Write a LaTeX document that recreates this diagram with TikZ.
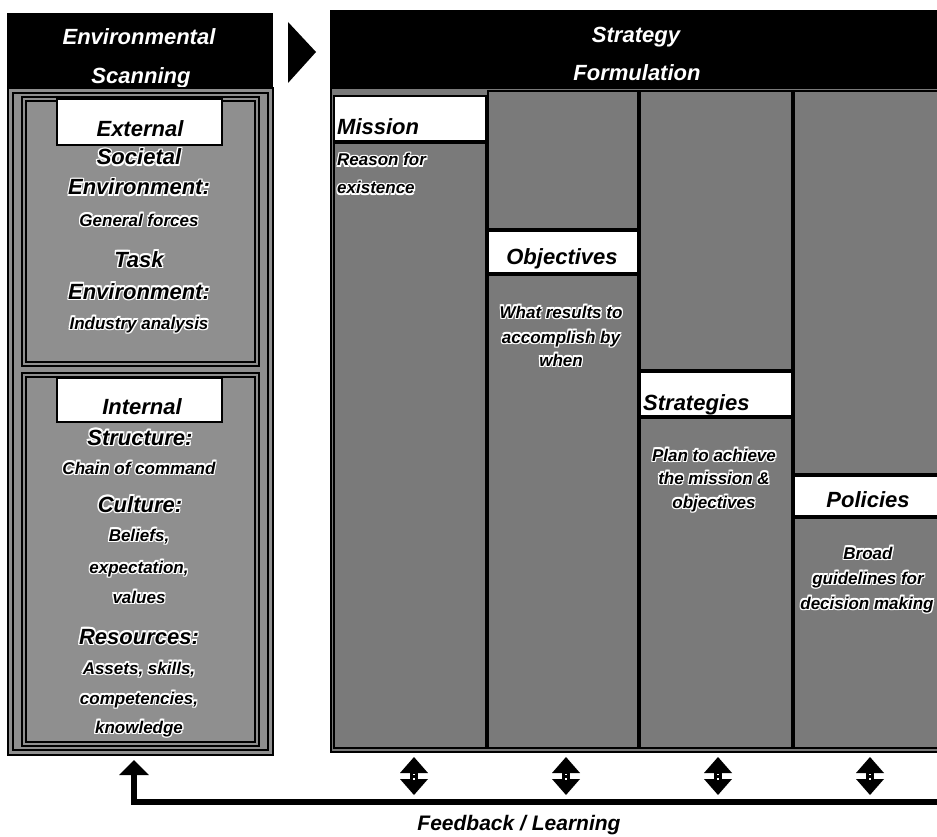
\documentclass[tikz,border=0pt]{standalone}
\usepackage{fontspec}
\setmainfont{Liberation Sans}
\usetikzlibrary{arrows.meta}

\definecolor{ditherL}{gray}{0.56}
\definecolor{ditherR}{gray}{0.48}

% white outline round dark text, built from shifted copies
\newlength\hw
\setlength\hw{1.1pt}
\newcommand\halo[1]{%
  \setbox0=\hbox{#1}%
  \rlap{\color{white}\kern-\hw\copy0}%
  \rlap{\color{white}\kern\hw\copy0}%
  \rlap{\color{white}\raise\hw\copy0}%
  \rlap{\color{white}\lower\hw\copy0}%
  \rlap{\color{white}\kern-\hw\raise\hw\copy0}%
  \rlap{\color{white}\kern\hw\raise\hw\copy0}%
  \rlap{\color{white}\kern-\hw\lower\hw\copy0}%
  \rlap{\color{white}\kern\hw\lower\hw\copy0}%
  \box0}

\tikzset{
  bar/.style={fill=black},
  hdrtext/.style={text=white, anchor=base, inner sep=0pt,
    font=\fontsize{22}{22}\selectfont\bfseries\itshape},
  tab/.style={fill=white, draw=black, line width=1.6pt},
  cell/.style={fill=ditherR, draw=black, line width=1.4pt},
  tabtext/.style={anchor=base, inner sep=0pt,
    font=\fontsize{22}{22}\selectfont\bfseries\itshape},
  bigtext/.style={anchor=base, inner sep=0pt,
    font=\fontsize{22}{22}\selectfont\bfseries\itshape},
  smalltext/.style={anchor=base, inner sep=0pt,
    font=\fontsize{17}{17}\selectfont\bfseries\itshape},
  frameline/.style={draw=black, line width=1.3pt},
  feedback/.style={draw=black, line width=6pt,
    -{Triangle[width=29pt,length=15pt]}},
}

\begin{document}
\begin{tikzpicture}[x=1pt, y=-1pt]
\useasboundingbox (0,0) rectangle (937,837);
\clip (0,0) rectangle (937,837);
\fill[white] (0,0) rectangle (937,837);

% ---------- Environmental Scanning ----------
\fill[bar] (7,13) rectangle (273,88);
\node[hdrtext] (envA) at (139,45) {Environmental};
\node[hdrtext] (envB) at (141,84) {Scanning};

% arrow between the two blocks
\fill[black] (288,22) -- (316,52) -- (288,83) -- cycle;

% left panel with its double frames
\filldraw[fill=ditherL, frameline] (8,88) rectangle (273,755);
\draw[frameline] (13,93) rectangle (268,750);
\draw[frameline] (22,97) rectangle (259,366);
\draw[frameline] (26,101) rectangle (255,362);
\draw[frameline] (22,373) rectangle (259,746);
\draw[frameline] (26,377) rectangle (255,742);

% external environment
\filldraw[tab] (57,99) rectangle (222,145);
\node[tabtext] (ext) at (140,137) {External};
\node[bigtext] (soc) at (139,165) {\halo{Societal}};
\node[bigtext] (socenv) at (139,195) {\halo{Environment:}};
\node[smalltext] (gen) at (139,226) {\halo{General forces}};
\node[bigtext] (task) at (139,267) {\halo{Task}};
\node[bigtext] (taskenv) at (139,299) {\halo{Environment:}};
\node[smalltext] (ind) at (139,329) {\halo{Industry analysis}};

% internal environment
\filldraw[tab] (57,378) rectangle (222,422);
\node[tabtext] (int) at (142,414) {Internal};
\node[bigtext] (str) at (140,445) {\halo{Structure:}};
\node[smalltext] (chain) at (139,474) {\halo{Chain of command}};
\node[bigtext] (cul) at (140,512) {\halo{Culture:}};
\node[smalltext] (bel) at (139,541) {\halo{Beliefs,}};
\node[smalltext] (exp) at (139,573) {\halo{expectation,}};
\node[smalltext] (val) at (139,603) {\halo{values}};
\node[bigtext] (res) at (139,644) {\halo{Resources:}};
\node[smalltext] (ass) at (139,674) {\halo{Assets, skills,}};
\node[smalltext] (comp) at (139,704) {\halo{competencies,}};
\node[smalltext] (know) at (139,733) {\halo{knowledge}};

% ---------- Strategy Formulation ----------
\fill[bar] (330,10) rectangle (945,88);
\node[hdrtext] (sfA) at (636,43) {Strategy};
\node[hdrtext] (sfB) at (637,81) {Formulation};

\filldraw[fill=ditherR, frameline] (331,88) rectangle (945,752);

% Mission column
\filldraw[tab] (334,96) rectangle (486,141);
\filldraw[cell] (334,143) rectangle (486,748);
\node[tabtext, anchor=base west] (mis) at (337,135) {Mission};
\node[smalltext, anchor=base west] (misA) at (337,166) {\halo{Reason for}};
\node[smalltext, anchor=base west] (misB) at (337,194) {\halo{existence}};

% Objectives column
\filldraw[cell] (488,91) rectangle (638,229);
\filldraw[tab] (488,231) rectangle (638,273);
\filldraw[cell] (488,275) rectangle (638,748);
\node[tabtext] (obj) at (562,265) {Objectives};
\node[smalltext] (objA) at (561,318) {\halo{What results to}};
\node[smalltext] (objB) at (561,343) {\halo{accomplish by}};
\node[smalltext] (objC) at (561,366) {\halo{when}};

% Strategies column
\filldraw[cell] (640,91) rectangle (792,370);
\filldraw[tab] (640,372) rectangle (792,416);
\filldraw[cell] (640,418) rectangle (792,748);
\node[tabtext, anchor=base west] (stg) at (643,410) {Strategies};
\node[smalltext] (stgA) at (714,461) {\halo{Plan to achieve}};
\node[smalltext] (stgB) at (714,484) {\halo{the mission \&}};
\node[smalltext] (stgC) at (714,508) {\halo{objectives}};

% Policies column
\filldraw[cell] (794,91) rectangle (945,474);
\filldraw[tab] (794,476) rectangle (945,516);
\filldraw[cell] (794,518) rectangle (945,748);
\node[tabtext] (pol) at (868,507) {Policies};
\node[smalltext] (polA) at (868,559) {\halo{Broad}};
\node[smalltext] (polB) at (868,584) {\halo{guidelines for}};
\node[smalltext] (polC) at (867,609) {\halo{decision making}};

% ---------- feedback loop ----------
\foreach \c in {414,566,718,870}{
  \fill[black] (\c-14,773) -- (\c,757) -- (\c+14,773) -- cycle;
  \fill[black] (\c-4,772) rectangle (\c+4,780);
  \fill[black] (\c-14,779) -- (\c,795) -- (\c+14,779) -- cycle;
  \fill[white] (\c-1.2,773.5) rectangle (\c+1.2,774.7);
  \fill[white] (\c-1.2,778.3) rectangle (\c+1.2,779.5);
}

\coordinate (fbR) at (945,802);
\coordinate (fbL) at (134,760);
\draw[feedback] (fbR) -| (fbL);
\node[anchor=base, inner sep=0pt,
  font=\fontsize{21}{21}\selectfont\bfseries\itshape] (fb) at (519,830)
  {Feedback / Learning};
\end{tikzpicture}
\end{document}
